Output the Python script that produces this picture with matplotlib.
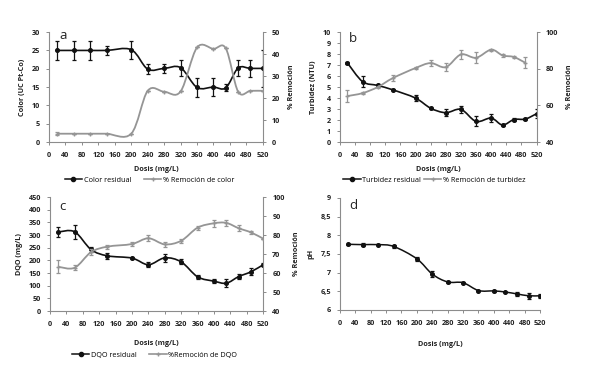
import matplotlib
matplotlib.use("Agg")
import matplotlib.pyplot as plt
from matplotlib.path import Path
from matplotlib.patches import PathPatch
from matplotlib.lines import Line2D

plt.rcParams['font.family'] = ['Open Sans', 'DejaVu Sans']

# ---------------- data ----------------
dosis = [20, 60, 100, 140, 200, 240, 280, 320, 360, 400, 430, 460, 490, 520]
x_ticks = [0, 40, 80, 120, 160, 200, 240, 280, 320, 360, 400, 440, 480, 520]

color_res = [25, 25, 25, 25, 25.2, 19.9, 20.1, 20.3, 14.9, 15.0, 14.8, 20.2, 20.1, 20.1]
color_res_err = [2.5, 2.5, 2.5, 1.3, 2.5, 1.4, 1.2, 2.2, 2.5, 2.5, 1.0, 2.2, 2.4, 5.0]
color_rem = [3.8, 3.8, 3.8, 3.8, 3.8, 23.3, 22.9, 23.0, 43.0, 42.4, 42.6, 22.9, 23.3, 23.3]
color_rem_err = [0.8, 0, 0, 0, 0, 0, 0, 0, 0, 0, 0, 0, 0, 0]

turb_res = [7.2, 5.5, 5.15, 4.75, 4.0, 3.08, 2.67, 2.97, 1.88, 2.18, 1.55, 2.05, 2.09, 2.58]
turb_res_err = [0.1, 0.5, 0.1, 0.05, 0.3, 0.05, 0.3, 0.3, 0.45, 0.4, 0.05, 0.1, 0.08, 0.4]
dosis_turb_rem = [20, 60, 100, 140, 200, 240, 280, 320, 360, 400, 430, 460, 490]
turb_rem = [65.1, 66.7, 70.0, 74.9, 80.4, 83.1, 80.9, 87.8, 86.0, 90.4, 87.3, 86.4, 83.3]
turb_rem_err = [3.5, 0.5, 0.3, 1.5, 0.3, 1.5, 2.0, 2.5, 3.0, 0.5, 1.0, 0.5, 3.0]

dqo_res = [312, 313, 243, 218, 209, 183, 210, 194, 135, 118, 110, 136, 155, 183]
dqo_res_err = [20, 27, 8, 12, 5, 10, 15, 10, 8, 8, 15, 10, 13, 5]
dqo_rem = [63.3, 62.8, 71.0, 73.9, 75.3, 78.3, 75.1, 77.0, 83.9, 86.2, 86.4, 83.6, 81.4, 78.1]
dqo_rem_err = [3.5, 1.2, 1.5, 1.0, 1.0, 1.5, 1.5, 1.0, 1.0, 1.8, 1.5, 1.5, 0.8, 0]

ph = [7.76, 7.75, 7.75, 7.70, 7.37, 6.96, 6.75, 6.73, 6.52, 6.51, 6.48, 6.43, 6.38, 6.38]
ph_err = [0.01, 0.05, 0.01, 0.05, 0.05, 0.08, 0.03, 0.01, 0.02, 0.03, 0.01, 0.06, 0.08, 0.06]

# ---------------- style ----------------
BLACK = '#111111'
GRAY = '#959595'
SPINE = '#8c8c8c'
TXT = '#222222'
FS = 5.2


def smooth_line(ax, x, y, color, lw):
    """Draw an Excel-like smoothed line (Catmull-Rom -> Bezier) through data."""
    n = len(x)
    verts = [(x[0], y[0])]
    codes = [Path.MOVETO]
    for i in range(n - 1):
        x0, y0 = (x[i - 1], y[i - 1]) if i > 0 else (x[i], y[i])
        x1, y1 = x[i], y[i]
        x2, y2 = x[i + 1], y[i + 1]
        x3, y3 = (x[i + 2], y[i + 2]) if i + 2 < n else (x2, y2)
        c1 = (x1 + (x2 - x0) / 6.0, y1 + (y2 - y0) / 6.0)
        c2 = (x2 - (x3 - x1) / 6.0, y2 - (y3 - y1) / 6.0)
        verts += [c1, c2, (x2, y2)]
        codes += [Path.CURVE4] * 3
    ax.add_patch(PathPatch(Path(verts, codes), facecolor='none', edgecolor=color,
                           lw=lw, zorder=2))


def series(ax, x, y, err, color, marker, ms, lw):
    smooth_line(ax, x, y, color, lw)
    ax.errorbar(x, y, yerr=err, fmt=marker, color=color, ms=ms, mfc=color, mec=color,
                ecolor=color, elinewidth=0.9, capsize=1.6, capthick=0.9, zorder=3)


def style_axis(ax):
    ax.spines['top'].set_visible(False)
    for s in ['left', 'right', 'bottom']:
        ax.spines[s].set_color(SPINE)
        ax.spines[s].set_linewidth(0.8)
    ax.tick_params(axis='both', colors=SPINE, labelcolor=TXT, labelsize=FS,
                   length=2.5, width=0.7, direction='out')
    ax.tick_params(axis='x', pad=5)
    ax.tick_params(axis='y', pad=4)
    for lab in ax.get_xticklabels() + ax.get_yticklabels():
        lab.set_fontweight('bold')


def base_axes(rect, ylim, yticks, ylabel, letter, lpos, xlabpad, yticklabels=None):
    ax = fig.add_axes(rect)
    ax.set_xlim(0, 520)
    ax.set_xticks(x_ticks)
    ax.set_ylim(*ylim)
    ax.set_yticks(yticks)
    if yticklabels is not None:
        ax.set_yticklabels(yticklabels)
    ax.spines['right'].set_visible(False)
    style_axis(ax)
    ax.set_xlabel('Dosis (mg/L)', fontsize=FS, fontweight='bold', color=TXT,
                  labelpad=xlabpad)
    ax.set_ylabel(ylabel, fontsize=FS, fontweight='bold', color=TXT, labelpad=4)
    ax.text(lpos[0], lpos[1], letter, transform=ax.transAxes, fontsize=9.5,
            color=TXT, ha='left', va='baseline')
    return ax


def twin_axes(ax, ylim, yticks):
    tw = ax.twinx()
    tw.set_ylim(*ylim)
    tw.set_yticks(yticks)
    style_axis(tw)
    tw.spines['left'].set_visible(False)
    tw.spines['bottom'].set_visible(False)
    tw.set_ylabel('% Remoción', fontsize=FS, fontweight='bold', color=TXT, labelpad=6)
    return tw


def legend(ax, lab1, lab2, x, y, colsp):
    h1 = Line2D([], [], color=BLACK, marker='o', ms=3, lw=1.1)
    h2 = Line2D([], [], color=GRAY, marker='+', ms=3, lw=1.2)
    ax.legend([h1, h2], [lab1, lab2], loc='center', bbox_to_anchor=(x, y),
              ncol=2, frameon=False, fontsize=FS, handlelength=2.4,
              columnspacing=colsp, handletextpad=0.2, borderpad=0)


fig = plt.figure(figsize=(5.89, 3.69), dpi=100)

# panel a
axa = base_axes([0.0832, 0.615, 0.363, 0.298], (0, 30), range(0, 31, 5),
                'Color (UC Pt-Co)', 'a', (0.047, 0.935), 5)
twa = twin_axes(axa, (0, 50), range(0, 51, 10))
series(twa, dosis, color_rem, color_rem_err, GRAY, '+', 3, 1.3)
series(axa, dosis, color_res, color_res_err, BLACK, 'o', 2.6, 1.2)
legend(axa, 'Color residual', '% Remoción de color', 0.47, -0.345, 1.8)

# panel b
axb = base_axes([0.577, 0.615, 0.334, 0.298], (0, 10), range(0, 11, 1),
                'Turbidez (NTU)', 'b', (0.046, 0.91), 5)
twb = twin_axes(axb, (40, 100), range(40, 101, 20))
series(twb, dosis_turb_rem, turb_rem, turb_rem_err, GRAY, '+', 3, 1.3)
series(axb, dosis, turb_res, turb_res_err, BLACK, 'o', 2.6, 1.2)
legend(axb, 'Turbidez residual', '% Remoción de turbidez', 0.48, -0.345, 0.4)

# panel c
axc = base_axes([0.0849, 0.157, 0.362, 0.309], (0, 450), range(0, 451, 50),
                'DQO (mg/L)', 'c', (0.042, 0.886), 8)
twc = twin_axes(axc, (40, 100), range(40, 101, 10))
series(twc, dosis, dqo_rem, dqo_rem_err, GRAY, '+', 3, 1.3)
series(axc, dosis, dqo_res, dqo_res_err, BLACK, 'o', 2.6, 1.2)
legend(axc, 'DQO residual', '%Remoción de DQO', 0.49, -0.386, 1.8)

# panel d
ph_ticks = [6, 6.5, 7, 7.5, 8, 8.5, 9]
axd = base_axes([0.577, 0.160, 0.340, 0.3035], (6, 9), ph_ticks, 'pH', 'd',
                (0.045, 0.9), 10, yticklabels=[('%g' % v).replace('.', ',') for v in ph_ticks])
for lab in axd.get_yticklabels():
    lab.set_fontweight('bold')
series(axd, dosis, ph, ph_err, BLACK, 'o', 2.6, 1.1)

fig.savefig('out.png', dpi=100)
